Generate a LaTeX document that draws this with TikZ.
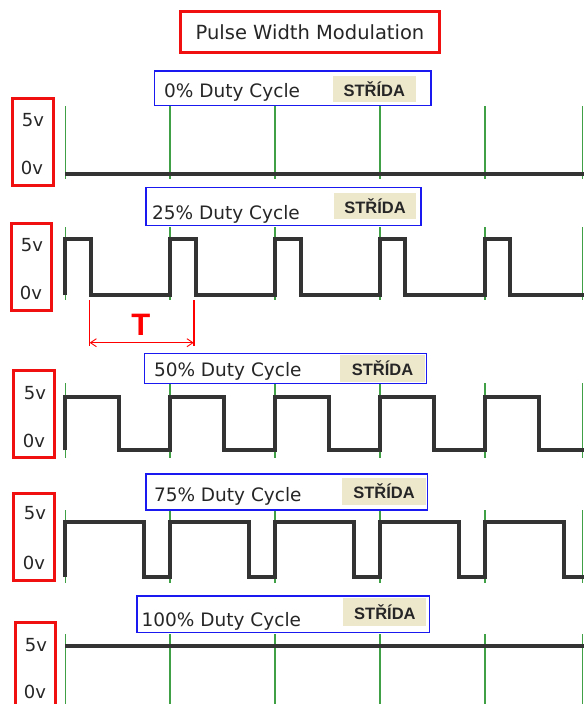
\documentclass[tikz,border=0pt]{standalone}
\usepackage{fontspec}
\setmainfont{DejaVu Sans}
\newfontfamily\stridafont{Liberation Sans}
\usetikzlibrary{arrows.meta}
\definecolor{wavec}{HTML}{333333}
\definecolor{gridc}{HTML}{3FA046}
\definecolor{paper}{HTML}{EDE7CC}
\definecolor{ink}{HTML}{262626}
\definecolor{boxblue}{HTML}{1A1AF0}
\definecolor{boxred}{HTML}{F01010}
\begin{document}
\begin{tikzpicture}[x=1pt,y=-1pt,
  titlebox/.style={draw=boxred,line width=3pt,inner sep=0pt,font=\fontsize{19.5}{20}\selectfont,text=ink},
  dutybox/.style={draw=boxblue,line width=1.3pt,inner sep=0pt},
  dutytext/.style={anchor=base west,inner sep=0pt,font=\fontsize{18.5}{19}\selectfont,text=ink},
  strida/.style={fill=paper,inner sep=0pt,font=\stridafont\bfseries\fontsize{16.5}{17}\selectfont,text=ink},
  voltbox/.style={draw=boxred,line width=3pt,inner sep=0pt},
  volt/.style={inner sep=0pt,font=\fontsize{18}{19}\selectfont,text=ink},
  gridline/.style={draw=gridc,line width=1.4pt},
  wave/.style={draw=wavec,line width=4pt,line join=miter},
  tmark/.style={draw=red,line width=1.6pt},
  tarrow/.style={draw=red,line width=0.9pt,{Straight Barb[length=6pt,width=8pt]}-{Straight Barb[length=6pt,width=8pt]}},
]
\useasboundingbox (0,0) rectangle (584,704);
\fill[white] (0,0) rectangle (584,704);
\def\gridxs{65.5,170.1,275,379.9,484.8,582.6}

% title
\node[titlebox,minimum width=259.5pt,minimum height=41pt] (title) at (310,32.2) {Pulse Width Modulation};

% ---------- Row 0 : 0% ----------
\foreach \gx in \gridxs {\draw[gridline] (\gx,106) -- (\gx,179);}
\draw[wave] (65.2,174) -- (584,174);
\node[dutybox,minimum width=276.4pt,minimum height=34.7pt] (b0) at (292.8,88.35) {};
\node[strida,minimum width=83.4pt,minimum height=25.7pt] (s0) at (374.3,88.85) {STŘÍDA};
\node[dutytext] (t0) at (164,97) {0\% Duty Cycle};
\node[voltbox,minimum width=40.7pt,minimum height=87.7pt] (v0) at (32.65,141.85) {};
\node[volt] (h0) at (33,120) {5v};
\node[volt] (l0) at (32,168) {0v};

% ---------- Row 1 : 25% ----------
\foreach \gx in \gridxs {\draw[gridline] (\gx,227) -- (\gx,300);}
\draw[wave] (65.2,295)
  \foreach \k in {0,...,4} { -- (65.2+104.9*\k,295) -- (65.2+104.9*\k,238.7) -- (90.7+104.9*\k,238.7) -- (90.7+104.9*\k,295) }
  -- (584,295);
\node[dutybox,minimum width=275pt,minimum height=38.4pt] (b1) at (283.5,206.5) {};
\node[strida,minimum width=82pt,minimum height=26pt] (s1) at (375,206) {STŘÍDA};
\node[dutytext] (t1) at (152,219) {25\% Duty Cycle};
\node[voltbox,minimum width=40pt,minimum height=87.7pt] (v1) at (31,266.85) {};
\node[volt] (h1) at (32,245) {5v};
\node[volt] (l1) at (31,293) {0v};
% period marker
\coordinate (ta1) at (89.6,300);
\coordinate (ta2) at (89.6,346);
\coordinate (tb1) at (193.7,300);
\coordinate (tb2) at (193.7,346);
\coordinate (tl) at (89.6,342.7);
\coordinate (tr) at (193.7,342.7);
\draw[tmark] (ta1) -- (ta2);
\draw[tmark] (tb1) -- (tb2);
\draw[tarrow] (tl) -- (tr);
\node[inner sep=0pt,text=red,font=\stridafont\bfseries\fontsize{31}{32}\selectfont] (T) at (140.8,325) {T};

% ---------- Row 2 : 50% ----------
\foreach \gx in \gridxs {\draw[gridline] (\gx,383) -- (\gx,458);}
\draw[wave] (65.2,450)
  \foreach \k in {0,...,4} { -- (65.2+104.9*\k,450) -- (65.2+104.9*\k,396.7) -- (119+104.9*\k,396.7) -- (119+104.9*\k,450) }
  -- (584,450);
\node[dutybox,minimum width=281.9pt,minimum height=30pt] (b2) at (285.45,368.3) {};
\node[strida,minimum width=85pt,minimum height=26.7pt] (s2) at (382.5,368.35) {STŘÍDA};
\node[dutytext] (t2) at (153.8,376) {50\% Duty Cycle};
\node[voltbox,minimum width=40.9pt,minimum height=87.3pt] (v2) at (34.25,413.65) {};
\node[volt] (h2) at (35,392.7) {5v};
\node[volt] (l2) at (34,440.7) {0v};

% ---------- Row 3 : 75% ----------
\foreach \gx in \gridxs {\draw[gridline] (\gx,510) -- (\gx,583);}
\draw[wave] (65.2,576.7)
  \foreach \k in {0,...,4} { -- (65.2+104.9*\k,576.7) -- (65.2+104.9*\k,521.7) -- (143.9+104.9*\k,521.7) -- (143.9+104.9*\k,576.7) }
  -- (584,576.7);
\node[dutybox,minimum width=281.6pt,minimum height=36pt] (b3) at (286.8,492) {};
\node[strida,minimum width=84pt,minimum height=27pt] (s3) at (384,491.5) {STŘÍDA};
\node[dutytext] (t3) at (153.8,501.7) {75\% Duty Cycle};
\node[voltbox,minimum width=40.9pt,minimum height=87.4pt] (v3) at (34.25,537) {};
\node[volt] (h3) at (35,513) {5v};
\node[volt] (l3) at (34,563) {0v};

% ---------- Row 4 : 100% ----------
\foreach \gx in \gridxs {\draw[gridline] (\gx,634) -- (\gx,704);}
\draw[wave] (65.2,646) -- (584,646);
\node[dutybox,minimum width=292.4pt,minimum height=36.7pt] (b4) at (283.2,614.35) {};
\node[strida,minimum width=83pt,minimum height=27.7pt] (s4) at (384.9,612.15) {STŘÍDA};
\node[dutytext] (t4) at (141.5,626.7) {100\% Duty Cycle};
\coordinate (v4a) at (15,705);
\coordinate (v4b) at (55.9,705);
\draw[draw=boxred,line width=3pt] (v4a) |- (55.9,622.3) -- (v4b);
\node[volt] (h4) at (36,645) {5v};
\node[volt] (l4) at (35,691.7) {0v};
\end{tikzpicture}
\end{document}
